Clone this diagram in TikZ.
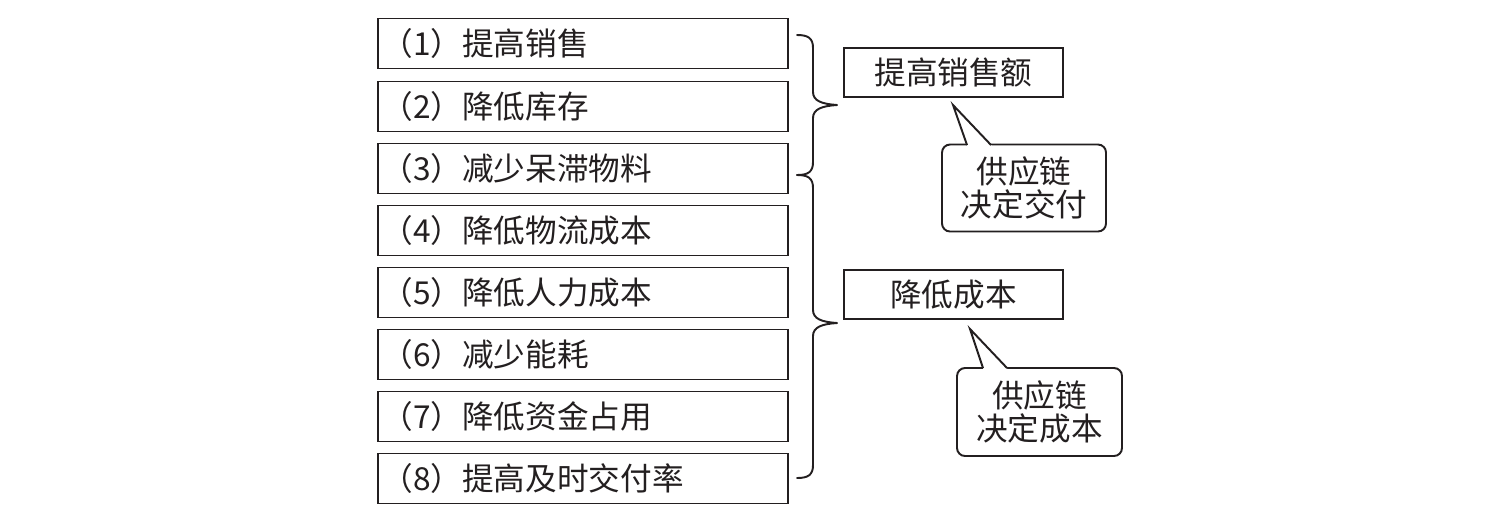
\documentclass[tikz,border=0pt]{standalone}
\usepackage{fontspec}
\setmainfont{Noto Sans CJK SC}
\newcommand\fs{\fontsize{18}{18.7}\selectfont}
\definecolor{ink}{HTML}{231F20}
\tikzset{
 ln/.style={line width=1.1pt, draw=ink},
 itembox/.style={ln, minimum width=8.2cm, minimum height=1cm, text width=8.06cm, inner xsep=0.07cm, inner ysep=0pt, align=left, font=\fs, text=ink},
 goalbox/.style={ln, minimum width=4.38cm, minimum height=0.98cm, inner sep=0pt, font=\fs, text=ink},
 callout/.style={ln, rounded corners=0.16cm, minimum height=1.74cm, align=center, inner sep=0pt, font=\fs, text=ink},
 bracepath/.style={ln, line join=round, line cap=round},
 pointer/.style={ln, line join=miter}
}
\begin{document}
\begin{tikzpicture}[x=0.02cm,y=-0.02cm]
\useasboundingbox (0,0) rectangle (1493,522);
% item boxes
\node[itembox] (b1) at (583,43.5) {（1）提高销售};
\node[itembox] (b2) at (583,106.5) {（2）降低库存};
\node[itembox] (b3) at (583,168.5) {（3）减少呆滞物料};
\node[itembox] (b4) at (583,230.5) {（4）降低物流成本};
\node[itembox] (b5) at (583,292.5) {（5）降低人力成本};
\node[itembox] (b6) at (583,354.5) {（6）减少能耗};
\node[itembox] (b7) at (583,416.5) {（7）降低资金占用};
\node[itembox] (b8) at (583,478.5) {（8）提高及时交付率};
% braces
\draw[bracepath] (797,35) .. controls (808,35) and (813,38) .. (813,48) -- (813,92)
  .. controls (813,101) and (822,104) .. (837,105)
  .. controls (822,106) and (813,109) .. (813,118) -- (813,162)
  .. controls (813,172) and (808,175) .. (797,175);
\draw[bracepath] (797,175) .. controls (808,175) and (813,178) .. (813,188) -- (813,310)
  .. controls (813,319) and (822,322) .. (837,323)
  .. controls (822,324) and (813,327) .. (813,336) -- (813,465)
  .. controls (813,475) and (808,478) .. (797,478);
% goal boxes
\node[goalbox] (g1) at (953.5,72.5) {提高销售额};
\node[goalbox] (g2) at (953.5,294.5) {降低成本};
% callouts
\node[callout, minimum width=3.28cm] (c1) at (1024,188) {供应链\\决定交付};
\node[callout, minimum width=3.3cm, minimum height=1.76cm] (c2) at (1039.5,412) {供应链\\决定成本};
\coordinate (t1) at (953,105);
\coordinate (a1) at (967,145);
\coordinate (e1) at (991,145);
\coordinate (t2) at (970,329);
\coordinate (a2) at (983,368);
\coordinate (e2) at (1007,368);
\fill[white] (t1) -- (967.7,147) -- (992.9,147) -- cycle;
\draw[pointer] (a1) -- (t1) -- (e1);
\fill[white] (t2) -- (983.7,370) -- (1008.2,370) -- cycle;
\draw[pointer] (a2) -- (t2) -- (e2);
\end{tikzpicture}
\end{document}
